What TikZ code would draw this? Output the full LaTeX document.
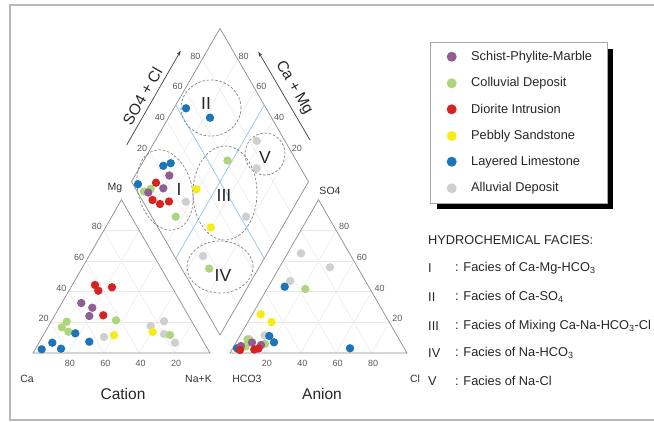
\documentclass[tikz,border=0pt]{standalone}
\usepackage{fontspec}
\setmainfont{Liberation Sans}
\usetikzlibrary{arrows.meta,calc}
\definecolor{cpur}{HTML}{8F5E93}
\definecolor{cgrn}{HTML}{AED57C}
\definecolor{cred}{HTML}{D7231F}
\definecolor{cyel}{HTML}{F7EC13}
\definecolor{cblu}{HTML}{1A75BB}
\definecolor{cgry}{HTML}{CFCFCF}
\definecolor{cline}{HTML}{9CC8E8}
\begin{document}
\begin{tikzpicture}[x=1pt,y=-1pt,
  frameline/.style={draw=black!28, line width=1.4pt},
  axisline/.style={draw=black!45, line width=0.7pt},
  gridline/.style={draw=black!9, line width=0.5pt},
  blueline/.style={draw=cline, line width=0.8pt},
  zone/.style={draw=black!50, dash pattern=on 2.5pt off 1.8pt, line width=0.7pt},
  axisarrow/.style={draw=black!75, line width=0.7pt, -{Stealth[length=5pt,width=3.5pt]}},
  ticklbl/.style={font=\fontsize{9}{9}\selectfont, text=black!65, inner sep=0pt},
  cornerlbl/.style={font=\fontsize{10.5}{10.5}\selectfont, text=black!80, inner sep=0pt},
  titlelbl/.style={font=\fontsize{15.5}{15.5}\selectfont, text=black!85, inner sep=0pt},
  romanlbl/.style={font=\fontsize{17.5}{17.5}\selectfont, text=black!85, inner sep=0pt},
  axislbl/.style={font=\fontsize{15.5}{15.5}\selectfont, text=black!85, inner sep=0pt},
  legtext/.style={font=\fontsize{12.8}{12.8}\selectfont, text=black!85, anchor=west, inner sep=0pt},
  dot/.style={circle, inner sep=0pt, minimum size=8.4pt, draw=none},
  legdot/.style={circle, inner sep=0pt, minimum size=10pt, draw=none},
  pur/.style={dot, fill=cpur}, grn/.style={dot, fill=cgrn}, rd/.style={dot, fill=cred},
  yel/.style={dot, fill=cyel}, blu/.style={dot, fill=cblu}, gry/.style={dot, fill=cgry}
]
\useasboundingbox (0,0) rectangle (654,421);
\draw[frameline] (654,5) -- (10,5) -- (10,420) -- (654,420);

% vertices
\coordinate (CaV) at (33,353); \coordinate (NaV) at (210,353); \coordinate (MgV) at (121.5,199.7);
\coordinate (HcV) at (230,353); \coordinate (ClV) at (407,353); \coordinate (SoV) at (318.5,199.7);
\coordinate (DL) at (131.5,181.7); \coordinate (DT) at (220,28.4);
\coordinate (DR) at (308.5,181.7); \coordinate (DB) at (220,335);

% grids
\foreach \t in {0.2,0.4,0.6,0.8}{
  \draw[gridline] ($(CaV)!\t!(MgV)$) -- ($(NaV)!\t!(MgV)$);
  \draw[gridline] ($(CaV)!\t!(NaV)$) -- ($(MgV)!\t!(NaV)$);
  \draw[gridline] ($(NaV)!\t!(CaV)$) -- ($(MgV)!\t!(CaV)$);
  \draw[gridline] ($(HcV)!\t!(SoV)$) -- ($(ClV)!\t!(SoV)$);
  \draw[gridline] ($(HcV)!\t!(ClV)$) -- ($(SoV)!\t!(ClV)$);
  \draw[gridline] ($(ClV)!\t!(HcV)$) -- ($(SoV)!\t!(HcV)$);
  \draw[gridline] ($(DL)!\t!(DB)$) -- ($(DT)!\t!(DR)$);
  \draw[gridline] ($(DL)!\t!(DT)$) -- ($(DB)!\t!(DR)$);
}

% outlines
\draw[axisline] (CaV) -- (NaV) -- (MgV) -- cycle;
\draw[axisline] (HcV) -- (ClV) -- (SoV) -- cycle;
\draw[axisline] (DL) -- (DT) -- (DR) -- (DB) -- cycle;

% blue dividing lines
\coordinate (b1) at ($(DL)!0.5!(DT)$); \coordinate (b2) at ($(DB)!0.5!(DR)$);
\coordinate (b3) at ($(DT)!0.5!(DR)$); \coordinate (b4) at ($(DL)!0.5!(DB)$);
\draw[blueline] (b1) -- (b2);
\draw[blueline] (b3) -- (b4);

% facies zones
\draw[zone, rotate around={15:(165,190)}] (165,190) ellipse [x radius=27pt, y radius=41pt];
\draw[zone] (211,108) ellipse [x radius=30pt, y radius=28pt];
\draw[zone] (225,193) ellipse [x radius=32pt, y radius=47pt];
\draw[zone] (220,267) ellipse [x radius=33pt, y radius=26pt];
\draw[zone] (265,154) ellipse [x radius=20pt, y radius=21pt];
\node[romanlbl] (zI) at (179,189) {I};
\node[romanlbl] (zII) at (206,103) {II};
\node[romanlbl] (zIII) at (224,195) {III};
\node[romanlbl] (zIV) at (223,275) {IV};
\node[romanlbl] (zV) at (265,157) {V};

% tick labels
\foreach \t/\v [count=\i] in {0.2/80,0.4/60,0.6/40,0.8/20}{
  \node[ticklbl] (cb\i) at ($(CaV)!\t!(NaV)+(1.5,10)$) {\v};
}
\foreach \t/\v [count=\i] in {0.2/20,0.4/40,0.6/60,0.8/80}{
  \node[ticklbl] (ab\i) at ($(HcV)!\t!(ClV)+(1.5,10)$) {\v};
  \node[ticklbl] (cl\i) at ($(CaV)!\t!(MgV)+(-7,-3.5)$) {\v};
  \node[ticklbl] (ar\i) at ($(ClV)!\t!(SoV)+(8,-3.5)$) {\v};
  \node[ticklbl] (dl\i) at ($(DL)!\t!(DT)+(-7,-3)$) {\v};
  \node[ticklbl] (dr\i) at ($(DR)!\t!(DT)+(6,-3)$) {\v};
}

% corner and title labels
\node[cornerlbl] (lMg) at (115,188) {Mg};
\node[cornerlbl] (lCa) at (27,379) {Ca};
\node[cornerlbl] (lNa) at (198.5,379) {Na+K};
\node[cornerlbl] (lSO) at (330,191) {SO4};
\node[cornerlbl] (lHC) at (247,379) {HCO3};
\node[cornerlbl] (lCl) at (415,379) {Cl};
\node[titlelbl] (tCat) at (123,394) {Cation};
\node[titlelbl] (tAn) at (322,394) {Anion};

% axis arrows
\coordinate (s1) at (126.7,145); \coordinate (s2) at (180.7,50.7);
\coordinate (m1) at (310,140); \coordinate (m2) at (258.3,51.7);
\draw[axisarrow] (s1) -- (s2);
\draw[axisarrow] (m1) -- (m2);
\node[axislbl, rotate=60] (aSO) at (142.5,96.2) {SO4 + Cl};
\node[axislbl, rotate=-60] (aCa) at (294,87.8) {Ca + Mg};

% data points
\foreach \x/\y [count=\i] in {104/337, 150.7/326, 164/321.3, 164/334, 175/342.7,
  256.7/140.8, 256.7/168.3, 185.7/201.8, 246/216.7, 203/256,
  301/253.3, 330/267.3, 290/281, 264.5/335.3, 249.3/339}
  \node[gry] (g\i) at (\x,\y) {};
\foreach \x/\y [count=\i] in {66.7/321.7, 61.7/327.3, 68.3/331.7, 116/320.3, 170/335,
  144/191.5, 150.7/188.8, 175.7/216.7, 227.5/160.5, 209.2/268.6,
  305.3/289, 247.5/339.5, 245.5/346.5, 265/344}
  \node[grn] (c\i) at (\x,\y) {};
\foreach \x/\y [count=\i] in {114/335.3, 152.7/332, 196.5/189.3, 210.7/227.5, 260.7/314.3, 271.5/322}
  \node[yel] (y\i) at (\x,\y) {};
\foreach \x/\y [count=\i] in {41.7/349.3, 52.3/342.7, 61/348.7, 75.3/333.3, 89.3/341.7,
  186/108.3, 210/117.7, 163.3/165.8, 170.7/163.2, 138/184.2,
  284.7/286.7, 269.3/336, 274/342.3, 350/348.3, 237/348.3}
  \node[blu] (bl\i) at (\x,\y) {};
\foreach \x/\y [count=\i] in {81.3/303, 92.3/307.7, 89.3/316,
  169.3/175.5, 163.3/188.3, 148.3/192.5,
  252/342.5, 261/345, 241/346}
  \node[pur] (p\i) at (\x,\y) {};
\foreach \x/\y [count=\i] in {95/285, 98.3/290.7, 112/287.3, 103.3/315.3,
  156/182.7, 152.5/200, 160/204, 169/201.5,
  240/350, 254.3/349.5, 258.5/348.5}
  \node[rd] (r\i) at (\x,\y) {};

% legend
\fill[black] (436.7,48.7) rectangle (613.3,209.3);
\draw[draw=black!35, fill=white, line width=0.6pt] (430.7,42.7) rectangle (607.3,203.3);
\foreach \c/\t/\y [count=\i] in {cpur/Schist-Phylite-Marble/56.7, cgrn/Colluvial Deposit/83.3,
  cred/Diorite Intrusion/109.3, cyel/Pebbly Sandstone/136, cblu/Layered Limestone/161.7,
  cgry/Alluvial Deposit/188.3}{
  \node[legdot, fill=\c] (ld\i) at (451.7,\y) {};
  \node[legtext] (lt\i) at (471,\y) {\t};
}

% facies text
\node[legtext] (fh) at (428,240) {HYDROCHEMICAL FACIES:};
\foreach \r/\t/\y [count=\i] in {I/{: Facies of Ca-Mg-HCO\textsubscript{3}}/268,
  II/{: Facies of Ca-SO\textsubscript{4}}/297,
  III/{: Facies of Mixing Ca-Na-HCO\textsubscript{3}-Cl}/326,
  IV/{: Facies of Na-HCO\textsubscript{3}}/353,
  V/{: Facies of Na-Cl}/381}{
  \node[legtext] (fr\i) at (428,\y) {\r};
  \node[legtext] (ft\i) at (455,\y) {\t};
}
\end{tikzpicture}
\end{document}
